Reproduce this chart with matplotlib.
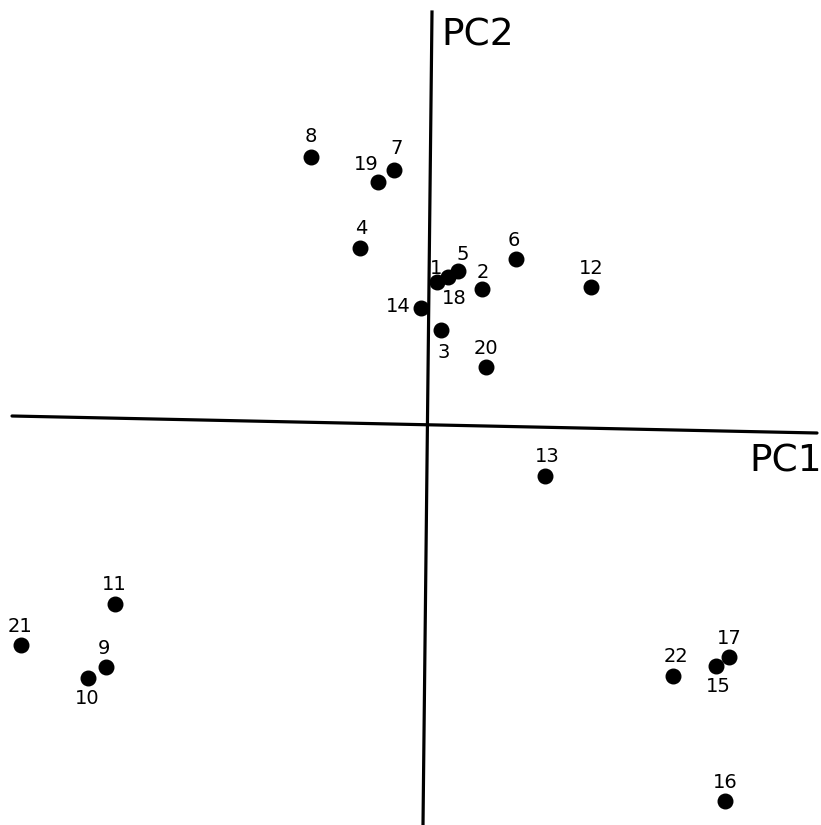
import matplotlib
matplotlib.use("Agg")
import matplotlib.pyplot as plt

# sample labels and their scores on the first two principal components
labels = ['8', '7', '19', '4', '1', '18', '5', '6', '2', '12', '14',
          '3', '20', '13', '11', '21', '9', '10', '22', '17', '15', '16']
pc1 = [-1.16, -0.33, -0.49, -0.67, 0.10, 0.21, 0.31, 0.89, 0.55, 1.64, -0.06,
       0.14, 0.59, 1.18, -3.12, -4.06, -3.21, -3.39, 2.46, 3.02, 2.89, 2.98]
pc2 = [2.67, 2.54, 2.42, 1.76, 1.42, 1.47, 1.53, 1.65, 1.35, 1.37, 1.16,
       0.94, 0.57, -0.52, -1.80, -2.21, -2.43, -2.54, -2.52, -2.33, -2.42, -3.77]

# where each number sits relative to its dot (pixels)
label_offsets = {
    '8': (0, 20), '7': (3, 21), '19': (-12, 17), '4': (1, 19),
    '1': (-1, 14), '18': (6, -22), '5': (5, 16), '6': (-2, 19),
    '2': (1, 17), '12': (0, 19), '14': (-23, 1), '3': (3, -22),
    '20': (0, 19), '13': (2, 20), '11': (-1, 20), '21': (-1, 18),
    '9': (-2, 19), '10': (-1, -20), '22': (3, 19), '17': (0, 19),
    '15': (2, -21), '16': (0, 19),
}

fig = plt.figure(figsize=(8.21, 8.25), dpi=100)
ax = fig.add_axes([0, 0, 1, 1])
ax.set_xlim(-4.27, 3.94)
ax.set_ylim(-4.01, 4.24)
ax.axis('off')

# axes through the origin (slightly skewed like the scan)
ax.plot([-4.15, 3.90], [0.08, -0.09], color='black', lw=2.3, solid_capstyle='round')
ax.plot([0.05, -0.04], [4.12, -4.01], color='black', lw=2.3)

ax.scatter(pc1, pc2, s=110, color='black', zorder=3)

for lab, x, y in zip(labels, pc1, pc2):
    dx, dy = label_offsets[lab]
    ax.annotate(lab, (x, y), xytext=(dx, dy), textcoords='offset pixels',
                ha='center', va='center', fontsize=14)

ax.text(0.51, 3.89, 'PC2', ha='center', va='center', fontsize=27)
ax.text(3.59, -0.37, 'PC1', ha='center', va='center', fontsize=27)

fig.savefig('out.png', dpi=100, facecolor='white')
